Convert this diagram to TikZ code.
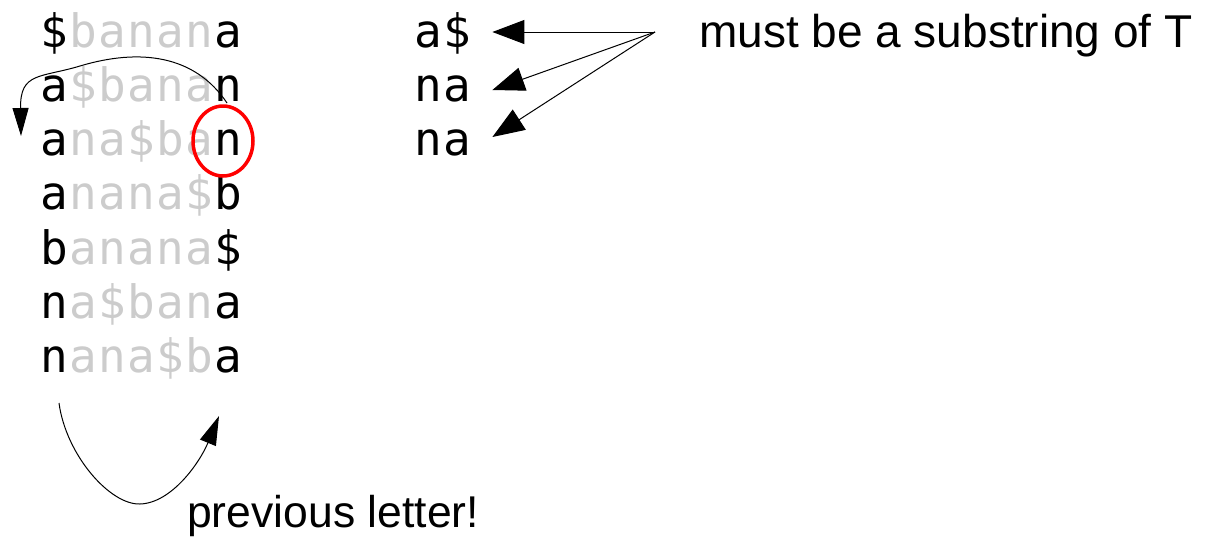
\documentclass[tikz,border=0pt]{standalone}
\usepackage{fontspec}
\setmainfont{Liberation Sans}
\newfontfamily\monof{DejaVu Sans Mono}
\usetikzlibrary{arrows.meta,calc}
\definecolor{lightg}{HTML}{CCCCCC}
\newcommand\bkc[1]{\makebox[29pt]{#1}}
\newcommand\gyc[1]{\makebox[29pt]{\color{lightg}#1}}
\begin{document}
\begin{tikzpicture}[x=1pt,y=-1pt,
  rowtxt/.style={anchor=base west, inner sep=0pt, font=\monof\fontsize{46}{50}\selectfont},
  lbl/.style={anchor=base west, inner sep=0pt, font=\fontsize{46}{50}\selectfont},
  conn/.style={line width=1pt, -{Triangle[length=32pt,width=24pt]}},
  curv/.style={line width=1pt, -{Triangle[length=28pt,width=16pt]}},
  ring/.style={draw=red, line width=3.5pt}
]
\useasboundingbox (0,0) rectangle (1216,539);
% BWT rotation matrix
\node[rowtxt] (m1) at (39.5,47)    {\bkc{\$}\gyc{b}\gyc{a}\gyc{n}\gyc{a}\gyc{n}\bkc{a}};
\node[rowtxt] (m2) at (39.5,101.3) {\bkc{a}\gyc{\$}\gyc{b}\gyc{a}\gyc{n}\gyc{a}\bkc{n}};
\node[rowtxt] (m3) at (39.5,155.6) {\bkc{a}\gyc{n}\gyc{a}\gyc{\$}\gyc{b}\gyc{a}\bkc{n}};
\node[rowtxt] (m4) at (39.5,209.9) {\bkc{a}\gyc{n}\gyc{a}\gyc{n}\gyc{a}\gyc{\$}\bkc{b}};
\node[rowtxt] (m5) at (39.5,264.2) {\bkc{b}\gyc{a}\gyc{n}\gyc{a}\gyc{n}\gyc{a}\bkc{\$}};
\node[rowtxt] (m6) at (39.5,318.5) {\bkc{n}\gyc{a}\gyc{\$}\gyc{b}\gyc{a}\gyc{n}\bkc{a}};
\node[rowtxt] (m7) at (39.5,372.8) {\bkc{n}\gyc{a}\gyc{n}\gyc{a}\gyc{\$}\gyc{b}\bkc{a}};
% right column
\node[rowtxt] (r1) at (413.5,47)    {\bkc{a}\bkc{\$}};
\node[rowtxt] (r2) at (413.5,101.3) {\bkc{n}\bkc{a}};
\node[rowtxt] (r3) at (413.5,155.6) {\bkc{n}\bkc{a}};
% labels
\node[lbl] (sub) at (699,47) {must be a substring of T};
\node[lbl, font=\fontsize{44.5}{50}\selectfont] (prev) at (187,527) {previous letter!};
% arrows to right column
\coordinate (src) at (655,32);
\coordinate (t1) at ($(r1.base east)+(20.5,-15)$);
\coordinate (t2) at ($(r2.base east)+(20.5,-11.3)$);
\coordinate (t3) at ($(r3.base east)+(20.5,-18.6)$);
\draw[conn] (src) -- (t1);
\draw[conn] (src) -- (t2);
\draw[conn] (src) -- (t3);
% red ring
\draw[ring] (223,141) ellipse [x radius=30pt, y radius=35pt];
% top curved arrow
\coordinate (ts) at (227,103);
\coordinate (te) at (21,136);
\draw[curv] (ts) .. controls (195,55) and (140,48) .. (80,66)
  .. controls (40,78) and (20,72) .. (te);
% bottom curved arrow
\coordinate (bs) at (59,403);
\coordinate (be) at (219,416);
\draw[curv, -{Triangle[length=29pt,width=17pt]}] (bs) .. controls (66,455) and (110,505) .. (140,504)
  .. controls (172,503) and (200,462) .. (be);
\end{tikzpicture}
\end{document}
